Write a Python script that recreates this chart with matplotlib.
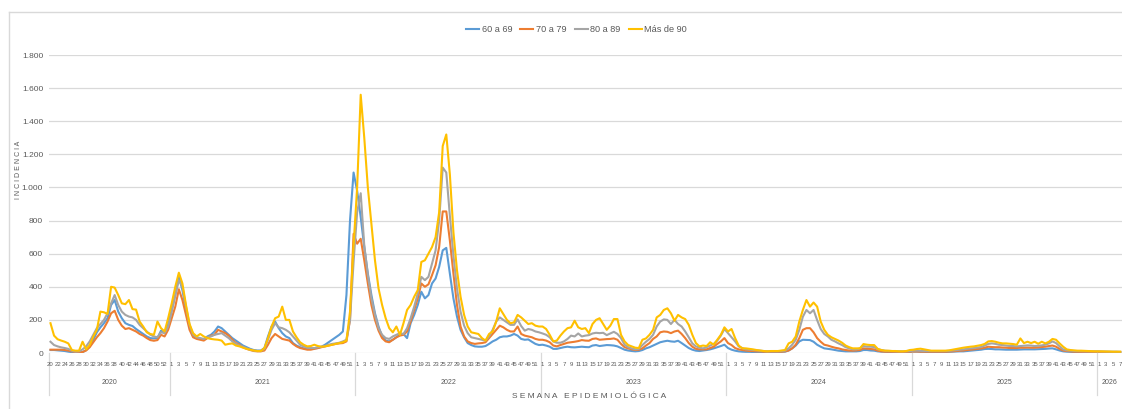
import numpy as np
import matplotlib.pyplot as plt
import matplotlib.transforms as mtransforms
from matplotlib.lines import Line2D

plt.rcParams['font.family'] = ['Liberation Sans', 'DejaVu Sans']

# anos y semanas epidemiologicas
years = ['2020', '2021', '2022', '2023', '2024', '2025', '2026']
first_week = [20, 1, 1, 1, 1, 1, 1]
last_week = [53, 52, 52, 52, 52, 52, 7]

# incidencia semanal por grupo de edad
s60_69 = (
    [18, 18, 16, 14, 12, 8, 5, 3, 3, 5, 18, 40, 80, 125, 155, 180, 210, 290, 320, 250,
     210, 180, 170, 163, 145, 130, 115, 100, 90, 88, 90, 135, 120, 175]
    + [260, 350, 460, 380, 260, 160, 100, 90, 85, 80, 100, 110, 130, 160, 150, 130, 110, 90, 75, 60,
       45, 35, 25, 18, 15, 15, 30, 100, 160, 190, 150, 120, 100, 90, 60, 45, 35, 28, 25, 25,
       28, 30, 38, 50, 65, 80, 95, 110, 130, 350, 800, 1090]
    + [980, 820, 640, 480, 350, 240, 160, 100, 75, 70, 80, 95, 110, 115, 90, 180, 230, 290, 370, 330,
       350, 420, 450, 520, 620, 635, 480, 330, 220, 140, 95, 60, 48, 40, 38, 38, 42, 55, 70, 80,
       95, 100, 100, 105, 115, 105, 85, 80, 82, 68, 55, 48]
    + [50, 45, 38, 25, 25, 30, 35, 38, 35, 34, 36, 38, 36, 35, 45, 48, 42, 45, 48, 47,
       45, 40, 30, 20, 15, 12, 10, 12, 18, 28, 35, 45, 55, 65, 70, 74, 70, 68, 74, 60,
       45, 30, 20, 14, 12, 15, 18, 22, 28, 35, 42, 50]
    + [30, 20, 14, 10, 8, 7, 7, 6, 6, 6, 6, 6, 6, 6, 6, 7, 8, 15, 28, 45,
       70, 80, 79, 78, 68, 50, 38, 28, 25, 22, 18, 14, 12, 10, 10, 10, 10, 12, 18, 18,
       15, 14, 10, 8, 7, 6, 6, 6, 6, 6, 6, 6]
    + [8, 8, 7, 7, 6, 6, 6, 6, 6, 6, 7, 8, 9, 10, 10, 12, 14, 16, 18, 20,
       24, 25, 24, 22, 22, 21, 20, 20, 20, 20, 21, 22, 22, 22, 22, 23, 24, 25, 27, 28,
       22, 15, 10, 8, 7, 6, 6, 5, 5, 5, 5, 5]
    + [5, 5, 5, 4, 4, 4, 4]
)

s70_79 = (
    [20, 20, 20, 20, 18, 15, 10, 6, 4, 6, 15, 35, 65, 95, 120, 150, 190, 240, 255, 200,
     165, 145, 150, 140, 130, 115, 105, 90, 78, 74, 78, 110, 100, 140]
    + [210, 280, 385, 320, 230, 140, 95, 85, 80, 75, 90, 105, 110, 140, 130, 120, 105, 80, 60, 50,
       35, 25, 18, 12, 10, 10, 15, 50, 90, 115, 100, 85, 80, 75, 55, 40, 30, 25, 20, 20,
       25, 30, 35, 40, 45, 50, 55, 58, 60, 70, 200, 720]
    + [660, 690, 560, 420, 290, 200, 135, 90, 70, 65, 80, 95, 105, 110, 130, 190, 260, 330, 420, 400,
       415, 470, 530, 640, 855, 855, 680, 480, 290, 160, 100, 70, 60, 55, 58, 60, 65, 90, 115, 140,
       165, 155, 140, 130, 130, 160, 115, 105, 100, 95, 85, 80]
    + [80, 75, 65, 45, 40, 48, 55, 62, 65, 68, 72, 78, 75, 74, 85, 88, 80, 82, 84, 85,
       88, 80, 55, 35, 28, 22, 18, 20, 28, 45, 60, 85, 100, 125, 130, 128, 120, 130, 135, 115,
       90, 60, 38, 25, 22, 22, 22, 30, 38, 55, 70, 90]
    + [60, 48, 30, 22, 18, 15, 12, 12, 10, 10, 8, 8, 8, 8, 8, 8, 10, 15, 28, 50,
       90, 140, 150, 150, 125, 90, 68, 50, 45, 38, 32, 28, 22, 18, 15, 14, 16, 18, 28, 26,
       24, 22, 14, 10, 8, 8, 8, 7, 7, 7, 7, 8]
    + [9, 9, 8, 8, 8, 8, 8, 8, 8, 8, 9, 10, 12, 14, 15, 18, 20, 22, 25, 28,
       32, 38, 36, 35, 35, 33, 32, 30, 30, 30, 32, 32, 33, 32, 32, 34, 36, 38, 42, 45,
       38, 25, 15, 12, 10, 8, 8, 7, 7, 7, 7, 7]
    + [7, 6, 6, 6, 5, 5, 5]
)

s80_89 = (
    [68, 48, 40, 34, 30, 25, 14, 8, 10, 22, 40, 70, 110, 150, 175, 200, 240, 300, 350, 290,
     250, 230, 220, 215, 200, 170, 150, 130, 110, 100, 95, 125, 120, 160]
    + [250, 350, 440, 400, 280, 170, 110, 95, 90, 85, 95, 100, 110, 115, 120, 105, 90, 70, 55, 45,
       38, 28, 20, 15, 12, 12, 25, 80, 140, 180, 155, 150, 140, 125, 100, 75, 50, 40, 32, 30,
       30, 35, 38, 42, 50, 55, 58, 62, 70, 80, 200, 550]
    + [850, 965, 650, 470, 330, 230, 150, 110, 90, 85, 100, 110, 120, 115, 150, 210, 280, 360, 460, 440,
       460, 540, 620, 800, 1120, 1090, 830, 590, 390, 250, 165, 120, 95, 90, 85, 80, 75, 100, 140, 190,
       215, 200, 185, 170, 170, 203, 163, 135, 145, 140, 130, 125]
    + [118, 110, 95, 70, 62, 62, 70, 85, 105, 100, 118, 100, 105, 108, 118, 122, 120, 122, 108, 118,
       128, 115, 90, 50, 35, 28, 22, 25, 48, 68, 85, 110, 160, 190, 203, 200, 175, 200, 175, 160,
       130, 95, 58, 40, 32, 28, 35, 45, 55, 75, 105, 145]
    + [120, 95, 70, 40, 30, 22, 20, 18, 16, 14, 12, 10, 10, 10, 10, 12, 14, 28, 50, 80,
       140, 219, 260, 240, 260, 199, 145, 115, 100, 80, 70, 58, 48, 35, 28, 22, 22, 28, 42, 38,
       38, 36, 22, 18, 14, 12, 12, 10, 10, 10, 10, 12]
    + [14, 14, 13, 12, 12, 12, 12, 12, 12, 12, 13, 15, 17, 20, 22, 25, 28, 30, 33, 36,
       45, 55, 58, 55, 50, 48, 45, 42, 42, 40, 42, 44, 46, 45, 42, 44, 46, 50, 58, 70,
       60, 40, 22, 16, 14, 12, 12, 11, 10, 10, 10, 10]
    + [10, 9, 9, 8, 8, 8, 7]
)

s90_mas = (
    [180, 105, 83, 75, 68, 58, 18, 14, 14, 68, 22, 48, 99, 140, 250, 246, 236, 400, 395, 350,
     300, 295, 320, 265, 262, 190, 160, 125, 115, 110, 190, 150, 130, 210]
    + [300, 400, 485, 420, 290, 175, 120, 100, 115, 100, 90, 85, 82, 80, 75, 50, 55, 58, 45, 40,
       32, 25, 20, 15, 12, 12, 30, 90, 160, 210, 220, 280, 200, 200, 130, 95, 65, 50, 40, 42,
       50, 42, 38, 40, 45, 50, 55, 60, 65, 75, 250, 650]
    + [1000, 1560, 1300, 1000, 780, 560, 390, 290, 210, 150, 125, 160, 110, 180, 260, 290, 340, 380, 550, 560,
       600, 640, 700, 850, 1250, 1320, 1080, 730, 500, 340, 230, 160, 125, 120, 115, 90, 75, 115, 130, 190,
       270, 235, 200, 180, 185, 230, 215, 195, 175, 180, 165, 160]
    + [160, 145, 110, 70, 75, 105, 130, 150, 155, 195, 155, 145, 150, 120, 175, 200, 210, 175, 140, 165,
       205, 205, 110, 70, 48, 40, 32, 30, 80, 88, 110, 140, 215, 230, 260, 270, 240, 195, 230, 215,
       205, 170, 110, 60, 40, 45, 42, 65, 50, 80, 110, 155]
    + [130, 145, 90, 45, 28, 28, 25, 22, 18, 15, 12, 10, 12, 12, 12, 15, 18, 58, 68, 100,
       190, 260, 320, 280, 305, 280, 190, 140, 110, 95, 85, 75, 62, 45, 35, 28, 28, 28, 54, 50,
       48, 48, 25, 18, 14, 14, 12, 12, 10, 10, 12, 18]
    + [20, 24, 26, 22, 18, 14, 14, 14, 14, 14, 16, 20, 24, 28, 32, 35, 38, 40, 44, 48,
       55, 70, 72, 68, 62, 58, 58, 56, 54, 50, 88, 60, 68, 60, 68, 56, 68, 58, 68, 85,
       80, 58, 38, 22, 18, 16, 14, 14, 13, 12, 11, 10]
    + [10, 10, 9, 9, 8, 8, 8]
)

series = [('60 a 69', s60_69, '#5B9BD5'),
          ('70 a 79', s70_79, '#ED7D31'),
          ('80 a 89', s80_89, '#A5A5A5'),
          ('Más de 90', s90_mas, '#FFC000')]

weeks = []
groups = []
for y, a, b in zip(years, first_week, last_week):
    groups.append((y, len(weeks), len(weeks) + b - a + 1))
    weeks += list(range(a, b + 1))
x = np.arange(len(weeks))

W, H = 1122, 409
fig = plt.figure(figsize=(W / 100, H / 100), dpi=100)
ax = fig.add_axes([48.7 / W, 56 / H, (W - 48.7) / W, 298 / H])

for name, vals, col in series:
    ax.plot(x, vals, color=col, lw=1.5, label=name)

ax.set_xlim(-0.5, len(weeks) - 0.5)
ax.set_ylim(0, 1800)
ax.set_yticks(range(0, 1801, 200))
ax.set_yticklabels([f'{v:,}'.replace(',', '.') for v in range(0, 1801, 200)])
ax.tick_params(axis='y', length=0, pad=4, labelsize=6, labelcolor='#595959')
ax.set_xticks([])
ax.yaxis.grid(True, color='#D9D9D9', lw=0.9)
ax.set_axisbelow(True)
for s in ax.spines.values():
    s.set_visible(False)

# eje de categorias de dos niveles
trans = mtransforms.blended_transform_factory(ax.transData, ax.transAxes)
for i, w in enumerate(weeks):
    if i % 2 == 0:
        ax.text(i, -0.037, str(w), transform=trans, ha='center', va='center',
                fontsize=4.3, color='#595959')
for y, a, b in groups:
    ax.text((a + b - 1) / 2, -0.10, y, transform=trans, ha='center', va='center',
            fontsize=5, color='#595959')
    if b < len(weeks):
        ax.plot([b - 0.5, b - 0.5], [0, -0.141], transform=trans, clip_on=False,
                color='#D9D9D9', lw=0.9)
ax.plot([-0.5, -0.5], [0, -0.141], transform=trans, clip_on=False, color='#D9D9D9', lw=0.9)

fig.text(589 / W, 1 - 396 / H, 'S E M A N A   E P I D E M I O L Ó G I C A',
         ha='center', va='center', fontsize=6, color='#595959')
fig.text(18 / W, 1 - 170 / H, 'I N C I D E N C I A', rotation=90,
         ha='center', va='center', fontsize=5, color='#595959')

leg = fig.legend(loc='center', bbox_to_anchor=(0.514, 1 - 30 / H), ncol=4, frameon=False,
                 fontsize=6.6, handlelength=1.4, handletextpad=0.3, columnspacing=0.9)
for t in leg.get_texts():
    t.set_color('#595959')

# borde del area del grafico
fig.add_artist(Line2D([9 / W, 9 / W], [0, 1 - 12 / H], color='#D9D9D9', lw=1))
fig.add_artist(Line2D([9 / W, 1], [1 - 12 / H, 1 - 12 / H], color='#D9D9D9', lw=1))

fig.savefig('out.png', dpi=100)
